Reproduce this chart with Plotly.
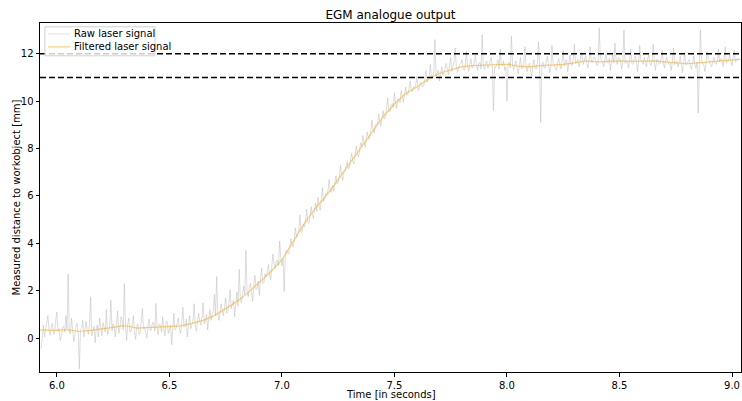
import numpy as np
import plotly.graph_objects as go

# Raw laser samples on the 10 ms grid, starting at 5.93 s
raw_start = 5.93
raw_step = 0.01
raw_on_grid = [
    -0.45, 0.55, 0.30, 0.95, 0.12, 0.62, 0.25, 1.10, 0.40, 0.05,
    0.50, 0.95, 2.70, 0.18, 0.45, 0.10, 0.62, -1.30, 0.40, 0.05,
    0.70, 0.15, 1.75, 0.30, -0.20, 0.55, 0.85, 0.10, 0.45, 1.20,
    0.25, 1.60, 0.60, 0.05, 1.15, 0.40, 0.75, 2.30, -0.10, 0.85,
    0.30, 0.95, -0.05, 0.60, 0.20, 1.25, 0.45, 0.00, 0.80, 0.35,
    0.65, 1.47, 0.15, 0.55, 0.90, 0.10, 0.70, 0.35, -0.28, 1.05,
    0.40, 0.85, 0.20, 1.30, 0.50, 0.05, 0.95, 0.60, 1.45, 0.30,
    1.05, 0.55, 1.50, 0.70, 0.35, 1.20, 0.90, 1.85, 2.60, 0.75,
    1.45, 0.95, 1.70, 1.10, 2.05, 1.40, 0.90, 1.95, 2.90, 1.50,
    2.20, 3.70, 1.75, 2.30, 1.55, 2.65, 2.10, 1.80, 2.95, 2.35,
    2.60, 3.10, 2.45, 3.55, 2.95, 3.30, 4.10, 3.05, 1.97, 3.70,
    3.55, 4.20, 3.85, 4.65, 4.35, 5.20, 4.50, 4.70, 5.45, 4.85,
    5.55, 5.05, 5.70, 5.95, 5.40, 6.35, 5.90, 6.05, 6.70, 6.15,
    6.20, 6.85, 6.55, 7.30, 6.65, 7.05, 7.45, 7.20, 7.80, 7.35,
    8.10, 7.65, 8.25, 8.55, 8.05, 8.70, 8.45, 9.20, 8.65, 9.05,
    9.45, 8.95, 9.60, 9.35, 10.15, 9.55, 9.90, 10.35, 9.70, 10.05,
    10.45, 9.95, 10.60, 10.30, 10.85, 10.40, 10.55, 11.05, 10.50, 10.75,
    10.65, 11.30, 10.90, 11.55, 11.00, 12.60, 11.15, 10.85, 11.45, 11.20,
    11.60, 11.10, 11.85, 11.40, 12.25, 11.20, 11.55, 11.75, 11.30, 12.10,
    11.25, 11.80, 11.45, 11.95, 11.30, 11.65, 12.80, 11.35, 11.70, 11.50,
    11.85, 9.60, 11.40, 11.75, 12.20, 11.50, 11.30, 10.00, 11.65, 12.75,
    11.30, 11.70, 11.15, 11.85, 11.40, 12.30, 11.25, 11.60, 11.05, 11.75,
    11.35, 12.50, 9.10, 11.65, 11.40, 11.90, 11.20, 12.35, 11.55, 11.30,
    11.80, 11.35, 12.15, 11.60, 11.25, 11.95, 11.50, 12.40, 11.70, 11.45,
    12.05, 11.55, 11.90, 11.40, 12.30, 11.65, 11.85, 11.50, 13.10, 11.75,
    11.45, 12.00, 11.60, 11.30, 11.95, 12.45, 11.55, 11.80, 11.35, 13.00,
    11.70, 11.40, 12.20, 11.55, 11.90, 11.25, 12.35, 11.65, 11.85, 11.45,
    11.95, 11.50, 12.40, 11.30, 11.75, 11.60, 12.15, 11.40, 11.85, 11.55,
    11.30, 12.25, 11.65, 11.45, 11.90, 11.20, 12.05, 11.55, 11.75, 11.35,
    11.90, 11.40, 9.50, 13.00, 11.60, 11.25, 12.10, 11.70, 11.45, 11.85,
    11.55, 12.20, 11.80, 11.45, 12.30, 11.65, 11.95, 11.50, 12.15, 11.75,
    11.80,
]
# Raw laser samples taken half a step (5 ms) after each grid sample
raw_half_step = [
    0.20, 0.05, 0.70, 0.35, 0.48, 0.15, 0.80, 0.30, -0.10, 0.45,
    0.25, 0.40, 0.30, 0.85, -0.15, 0.55, 0.20, 0.35, 0.75, 0.30,
    0.35, 0.60, 0.10, 0.50, 0.40, 0.05, 0.30, 0.65, 0.25, 0.15,
    0.55, 0.30, 0.45, 0.70, 0.20, 0.90, 0.35, 0.50, 0.60, 0.25,
    0.60, 0.25, 0.50, 0.15, 0.75, 0.40, 0.20, 0.55, 0.30, 0.65,
    0.30, 0.45, 0.60, 0.25, 0.40, 0.70, 0.20, 0.55, 0.50, 0.35,
    0.65, 0.35, 0.70, 0.45, 0.80, 0.55, 0.40, 0.75, 0.50, 0.85,
    0.70, 0.90, 0.60, 1.00, 0.85, 0.75, 1.15, 0.95, 1.05, 1.20,
    1.15, 1.30, 1.05, 1.50, 1.25, 1.60, 1.45, 1.35, 1.70, 1.85,
    1.85, 2.00, 2.15, 1.95, 2.25, 2.05, 2.40, 2.55, 2.30, 2.70,
    2.80, 2.70, 3.00, 3.15, 3.25, 3.05, 3.40, 3.35, 3.50, 3.60,
    3.85, 3.95, 4.15, 4.25, 4.55, 4.45, 4.80, 4.95, 4.90, 5.15,
    5.20, 5.45, 5.35, 5.60, 5.85, 5.75, 6.10, 6.25, 6.20, 6.45,
    6.55, 6.50, 6.80, 6.90, 7.00, 7.25, 7.15, 7.55, 7.45, 7.70,
    7.85, 7.90, 8.10, 8.30, 8.45, 8.40, 8.75, 8.80, 8.95, 9.00,
    9.15, 9.30, 9.25, 9.65, 9.60, 9.85, 9.75, 9.95, 10.10, 9.95,
    10.20, 10.30, 10.25, 10.55, 10.45, 10.60, 10.70, 10.45, 10.80, 10.60,
    10.95, 10.80, 11.10, 10.95, 11.25, 11.05, 11.30, 11.20, 11.10, 11.40,
    11.35, 11.50, 11.25, 11.65, 11.45, 11.40, 11.60, 11.35, 11.55, 11.45,
    11.55, 11.40, 11.65, 11.50, 11.60, 11.35, 11.45, 11.60, 11.40, 11.70,
    11.50, 11.45, 11.60, 11.35, 11.55, 11.70, 11.45, 11.55, 11.40, 11.50,
    11.55, 11.40, 11.50, 11.35, 11.65, 11.45, 11.55, 11.30, 11.50, 11.40,
    11.60, 11.45, 11.55, 11.40, 11.70, 11.50, 11.45, 11.60, 11.35, 11.65,
    11.55, 11.70, 11.50, 11.75, 11.65, 11.55, 11.80, 11.60, 11.75, 11.65,
    11.70, 11.80, 11.60, 11.75, 11.65, 11.85, 11.70, 11.60, 11.80, 11.65,
    11.75, 11.65, 11.80, 11.70, 11.60, 11.75, 11.85, 11.65, 11.70, 11.60,
    11.65, 11.75, 11.60, 11.80, 11.70, 11.65, 11.75, 11.55, 11.70, 11.80,
    11.60, 11.70, 11.65, 11.75, 11.55, 11.80, 11.60, 11.70, 11.65, 11.60,
    11.65, 11.55, 11.70, 11.60, 11.50, 11.65, 11.55, 11.70, 11.50, 11.60,
    11.55, 11.65, 11.60, 11.70, 11.50, 11.65, 11.75, 11.55, 11.70, 11.60,
    11.70, 11.65, 11.75, 11.80, 11.60, 11.75, 11.70, 11.85, 11.65, 11.80,
]

# Merge both sample sets into one time-ordered series
n_half = len(raw_half_step)
raw_signal = np.empty(len(raw_on_grid) + n_half)
raw_signal[0:2 * n_half:2] = raw_on_grid[:n_half]
raw_signal[1:2 * n_half:2] = raw_half_step
raw_signal[2 * n_half:] = raw_on_grid[n_half:]
raw_time = raw_start + (raw_step / 2) * np.arange(len(raw_signal))

# Filtered (smoothed) signal
filtered_time = [
    5.925, 6.0, 6.05, 6.1, 6.15, 6.2, 6.25, 6.29, 6.32, 6.355, 6.4, 6.45,
    6.5, 6.55, 6.6, 6.65, 6.7, 6.75, 6.8, 6.85, 6.9, 6.95, 7.0, 7.05, 7.1,
    7.15, 7.2, 7.25, 7.3, 7.35, 7.4, 7.45, 7.5, 7.55, 7.6, 7.65, 7.7, 7.75,
    7.8, 7.85, 7.9, 7.95, 8.0, 8.05, 8.1, 8.15, 8.2, 8.25, 8.3, 8.35, 8.4,
    8.45, 8.5, 8.55, 8.6, 8.65, 8.7, 8.75, 8.8, 8.85, 8.9, 8.95, 9.0, 9.04,
]
filtered_signal = [
    0.35, 0.33, 0.36, 0.28, 0.33, 0.38, 0.45, 0.53, 0.50, 0.42, 0.44, 0.47,
    0.49, 0.52, 0.62, 0.75, 0.95, 1.24, 1.55, 1.92, 2.35, 2.80, 3.30, 4.05, 4.85,
    5.50, 6.05, 6.70, 7.35, 8.05, 8.70, 9.35, 9.88, 10.33, 10.60, 10.93, 11.18, 11.33,
    11.46, 11.50, 11.52, 11.55, 11.56, 11.48, 11.45, 11.50, 11.52, 11.55, 11.62, 11.70, 11.66,
    11.68, 11.70, 11.68, 11.68, 11.70, 11.66, 11.62, 11.58, 11.62, 11.67, 11.70, 11.74, 11.76,
]

# Tolerance band limits [mm]
limits = [11, 12]

x_range = [5.925, 9.04]
y_range = [-1.43, 13.3]
x_ticks = [6.0, 6.5, 7.0, 7.5, 8.0, 8.5, 9.0]
y_ticks = [0, 2, 4, 6, 8, 10, 12]

series_names = ["Raw laser signal", "Filtered laser signal"]
raw_color = "rgba(185,185,185,0.5)"
filtered_color = "rgba(255,165,0,0.55)"

font = "DejaVu Sans, sans-serif"

fig = go.Figure()
fig.add_trace(go.Scatter(
    x=raw_time, y=raw_signal, mode="lines", name=series_names[0],
    line=dict(color=raw_color, width=1), showlegend=False,
))
fig.add_trace(go.Scatter(
    x=filtered_time, y=filtered_signal, mode="lines", name=series_names[1],
    line=dict(color=filtered_color, width=1.2), showlegend=False,
))

for lim in limits:
    fig.add_shape(type="line", xref="paper", yref="y", x0=0, x1=1, y0=lim, y1=lim,
                  line=dict(color="black", width=1.5, dash="6px,3px"))

# Compact legend box in the upper-left corner of the axes
fig.add_shape(type="rect", xref="paper", yref="paper", x0=0.007, x1=0.164, y0=0.906, y1=0.989,
              line=dict(color="#d0d0d0", width=1), fillcolor="rgba(255,255,255,0.8)")
legend_rows = [0.9687, 0.9316]
legend_colors = ["rgba(185,185,185,0.35)", filtered_color]
for name, row, col in zip(series_names, legend_rows, legend_colors):
    fig.add_shape(type="line", xref="paper", yref="paper", x0=0.0114, x1=0.0428, y0=row, y1=row,
                  line=dict(color=col, width=1.2))
    fig.add_annotation(text=name, xref="paper", yref="paper", x=0.0457, y=row,
                       xanchor="left", yanchor="middle", showarrow=False,
                       font=dict(family=font, size=10, color="black"))

# Axis titles
fig.add_annotation(text="Time [in seconds]", xref="paper", yref="paper", x=0.5, y=0,
                   xanchor="center", yanchor="bottom", yshift=-29, borderpad=0, showarrow=False,
                   font=dict(family=font, size=10, color="black"))
fig.add_annotation(text="Measured distance to workobject [mm]", xref="paper", yref="paper",
                   x=0, y=0.5, xanchor="center", yanchor="middle", xshift=-24, textangle=-90,
                   showarrow=False, font=dict(family=font, size=10, color="black"))

axis_common = dict(
    showline=True, mirror=True, linecolor="black", linewidth=1,
    ticks="outside", ticklen=3.5, tickcolor="black", showgrid=False, zeroline=False,
    automargin=False,
    tickfont=dict(family=font, size=10, color="black"),
)

fig.update_layout(
    width=742, height=401,
    margin=dict(l=40, r=1, t=23, b=29),
    paper_bgcolor="white", plot_bgcolor="white",
    font=dict(family=font, size=10, color="black"),
    title=dict(text="EGM analogue output", x=0.5, xref="paper", y=0.962, yanchor="middle",
               font=dict(family=font, size=12, color="black")),
    xaxis=dict(range=x_range, tickvals=x_ticks, tickformat=".1f", **axis_common),
    yaxis=dict(range=y_range, tickvals=y_ticks, **axis_common),
    showlegend=False,
)

fig.write_html("out.html")
